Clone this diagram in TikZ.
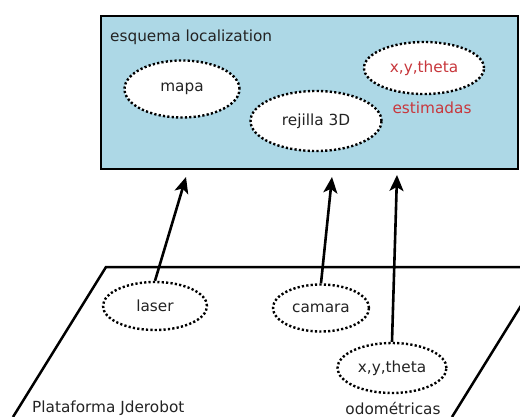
\documentclass[tikz,border=0pt]{standalone}
\usepackage{fontspec}
\setmainfont{DejaVu Sans}
\usetikzlibrary{shapes.geometric,arrows.meta}
\definecolor{boxblue}{RGB}{173,216,230}
\definecolor{estred}{RGB}{200,55,60}
\definecolor{txt}{RGB}{35,35,35}
\begin{document}
\begin{tikzpicture}[x=1pt,y=-1pt,
  lbl/.style={font=\fontsize{15.3}{18}\selectfont, text=txt, inner sep=0pt},
  dotell/.style={ellipse, draw=black, fill=white, line width=2.4pt,
     dash pattern=on 2.2pt off 2.2pt, inner sep=0pt,
     font=\fontsize{15.3}{18}\selectfont, text=txt},
  link/.style={line width=2.6pt, -{Stealth[length=16pt,width=14pt,inset=4pt]}},
  plat/.style={line width=2.5pt}]
\clip (0,0) rectangle (520,417);
\useasboundingbox (0,0) rectangle (520,417);
% upper box
\draw[line width=2.8pt, fill=boxblue] (101,16) rectangle (518,169);
\node[lbl, anchor=west] (title) at (110,37) {esquema localization};
\node[dotell, minimum width=115pt, minimum height=57pt] (mapa) at (182,89) {mapa};
\node[dotell, minimum width=131pt, minimum height=60pt] (rejilla) at (316,121) {rejilla 3D};
\node[dotell, minimum width=120pt, minimum height=52pt, text=estred] (xyest) at (424,68) {x,y,theta};
\node[lbl, text=estred] (estimadas) at (432,108) {estimadas};
% platform
\coordinate (pA) at (106,267);
\coordinate (pB) at (560,267);
\coordinate (pC) at (13,417);
\coordinate (pD) at (545,267);
\coordinate (pE) at (452,417);
\draw[plat] (pC) -- (pA) -- (pB);
\draw[plat] (pD) -- (pE);
\node[dotell, minimum width=104pt, minimum height=48pt] (laser) at (155,306) {laser};
\node[dotell, minimum width=96pt, minimum height=47pt] (camara) at (321,308) {camara};
\node[dotell, minimum width=109pt, minimum height=50pt] (odo) at (392,368) {x,y,theta};
\node[lbl, anchor=west] (plataforma) at (32,408) {Plataforma Jderobot};
\node[lbl] (odom) at (393,408) {odométricas};
% arrows
\coordinate (tA) at (186,177);
\coordinate (tB) at (332,177);
\coordinate (tC) at (397,175);
\draw[link] (laser.north) -- (tA);
\draw[link] (camara.north) -- (tB);
\draw[link] (odo.north) -- (tC);
\end{tikzpicture}
\end{document}
